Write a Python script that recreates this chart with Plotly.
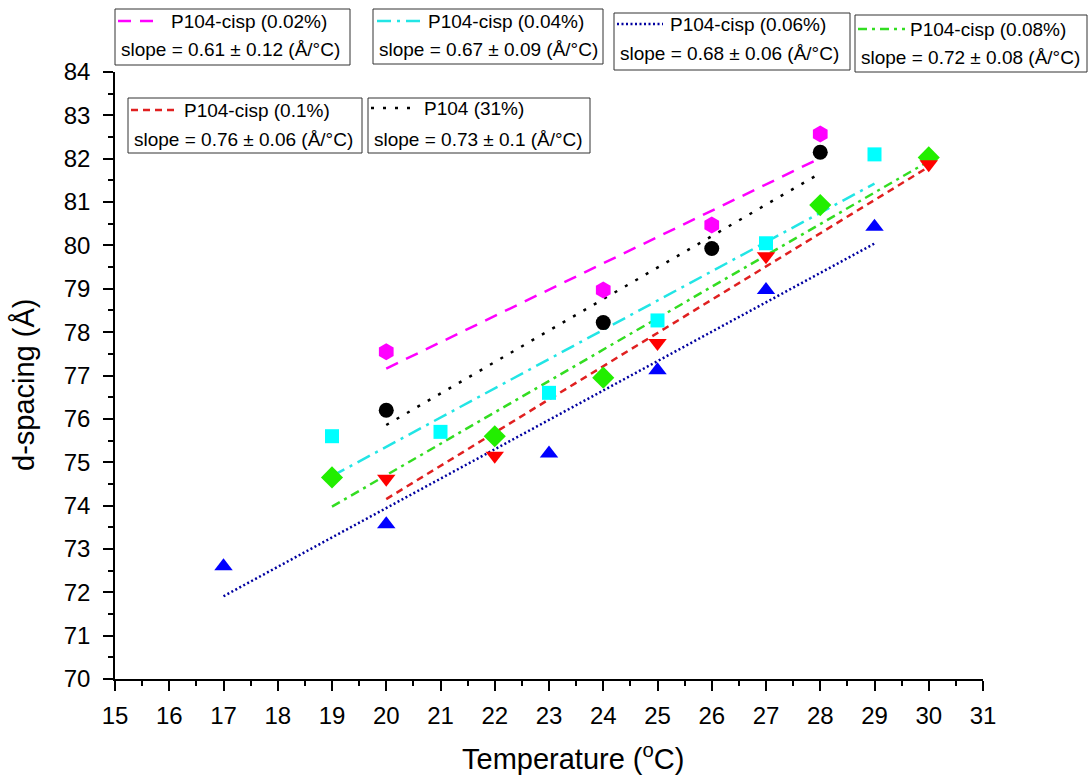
import numpy as np
import plotly.graph_objects as go

# ---------------- data ----------------
x_002 = [20, 24, 26, 28]
y_002 = [77.55, 78.97, 80.47, 82.57]

x_31 = [20, 24, 26, 28]
y_31 = [76.20, 78.22, 79.93, 82.15]

x_004 = [19, 21, 23, 25, 27, 29]
y_004 = [75.60, 75.70, 76.60, 78.27, 80.05, 82.10]

x_008 = [19, 22, 24, 28, 30]
y_008 = [74.65, 75.60, 76.95, 80.93, 82.03]

x_01 = [20, 22, 25, 27, 30]
y_01 = [74.62, 75.15, 77.75, 79.75, 81.87]

x_006 = [17, 20, 23, 25, 27, 29]
y_006 = [72.60, 73.57, 75.20, 77.12, 78.97, 80.43]

series_names = ["P104-cisp (0.02%)", "P104-cisp (0.04%)", "P104-cisp (0.06%)",
                "P104-cisp (0.08%)", "P104-cisp (0.1%)", "P104 (31%)"]
slope_labels = ["slope = 0.61 ± 0.12 (Å/°C)", "slope = 0.67 ± 0.09 (Å/°C)",
                "slope = 0.68 ± 0.06 (Å/°C)", "slope = 0.72 ± 0.08 (Å/°C)",
                "slope = 0.76 ± 0.06 (Å/°C)", "slope = 0.73 ± 0.1 (Å/°C)"]

x_ticks = list(range(15, 32))
y_ticks = list(range(70, 85))

x_title = "Temperature (<sup>o</sup>C)"
y_title = "d-spacing (Å)"

# ---------------- styles ----------------
W, H = 1089, 776
L, R, T, B = 115, 983, 72, 679  # plot area in pixels
FONT = "Liberation Sans, Arial"

styles = [
    # x, y, marker color, symbol, size, line color, dash
    (x_002, y_002, "#FF00FF", "hexagon", 17, "#FF00FF", "13px,9px"),
    (x_004, y_004, "#00FFFF", "square", 14, "#22E5E5", "14px,6px,3px,6px"),
    (x_006, y_006, "#0000FF", "triangle-up", 16, "#0000A0", "2px,2.5px"),
    (x_008, y_008, "#22EE00", "diamond", 17, "#33DD22", "9px,5px,3px,5px"),
    (x_01, y_01, "#FF0000", "triangle-down", 16, "#E02020", "7px,5px"),
    (x_31, y_31, "#000000", "circle", 15, "#000000", "3px,9px"),
]

fig = go.Figure()

for (xs, ys, mc, sym, sz, lc, dash) in styles:
    xa = np.array(xs, float)
    ya = np.array(ys, float)
    m, c = np.polyfit(xa, ya, 1)
    xf = np.array([xa.min(), xa.max()])
    fig.add_trace(go.Scatter(x=xf, y=m * xf + c, mode="lines",
                             line=dict(color=lc, width=2.5, dash=dash),
                             showlegend=False, hoverinfo="skip"))
for (xs, ys, mc, sym, sz, lc, dash) in styles:
    fig.add_trace(go.Scatter(x=xs, y=ys, mode="markers",
                             marker=dict(symbol=sym, size=sz, color=mc,
                                         line=dict(width=0)),
                             showlegend=False))

# ---------------- legend boxes ----------------
def px(p):
    return (p - L) / (R - L)

def py(p):
    return (B - p) / (B - T)

# box: left, right, top, bottom, sample x0, sample x1, text x, line1 y, line2 y, slope x
boxes = [
    (115, 350, 9, 65, 118, 162, 169, 21, 50, 119),
    (373, 603, 9, 64, 377, 422, 426, 21, 50, 377),
    (614, 850, 13, 70, 617, 663, 668, 24, 53, 618),
    (855, 1087, 15, 72, 858, 905, 908, 29, 58, 859),
    (128, 362, 98, 153, 131, 177, 182, 110, 139, 132),
    (368, 590, 98, 153, 371, 413, 422, 108, 139, 372),
]

LEG_FS = 19
shapes = []
annotations = []
for i, (bl, br, bt, bb, s0, s1, tx, y1, y2, sx) in enumerate(boxes):
    lc = styles[i][5]
    dash = styles[i][6]
    shapes.append(dict(type="rect", xref="paper", yref="paper",
                       x0=px(bl), x1=px(br), y0=py(bb), y1=py(bt),
                       line=dict(color="#333333", width=1), fillcolor="white",
                       layer="above"))
    shapes.append(dict(type="line", xref="paper", yref="paper",
                       x0=px(s0), x1=px(s1), y0=py(y1), y1=py(y1),
                       line=dict(color=lc, width=2.5, dash=dash), layer="above"))
    annotations.append(dict(text=series_names[i], xref="paper", yref="paper",
                            x=px(tx), y=py(y1), xanchor="left", yanchor="middle",
                            showarrow=False,
                            font=dict(family=FONT, size=LEG_FS, color="black")))
    annotations.append(dict(text=slope_labels[i], xref="paper", yref="paper",
                            x=px(sx), y=py(y2), xanchor="left", yanchor="middle",
                            showarrow=False,
                            font=dict(family=FONT, size=LEG_FS, color="black")))

# axis titles placed as annotations
annotations.append(dict(text=x_title, xref="paper", yref="paper",
                        x=px(573), y=py(757), xanchor="center", yanchor="middle",
                        showarrow=False, font=dict(family=FONT, size=29, color="black")))
annotations.append(dict(text=y_title, xref="paper", yref="paper",
                        x=px(24), y=py(385), xanchor="center", yanchor="middle",
                        textangle=-90, showarrow=False,
                        font=dict(family=FONT, size=29, color="black")))

axis_common = dict(showgrid=False, zeroline=False, showline=True, linecolor="black",
                   linewidth=1.5, ticks="outside", ticklen=10, tickwidth=1.5,
                   tickcolor="black", tickfont=dict(family=FONT, size=24, color="black"),
                   minor=dict(ticks="outside", ticklen=5, tickwidth=1.5, dtick=0.5,
                              tickcolor="black", showgrid=False))

fig.update_layout(
    width=W, height=H,
    margin=dict(l=L, r=W - R, t=T, b=H - B, pad=0),
    paper_bgcolor="white", plot_bgcolor="white",
    font=dict(family=FONT, color="black"),
    shapes=shapes, annotations=annotations,
    xaxis=dict(range=[15, 31], tickvals=x_ticks, ticktext=[str(v) for v in x_ticks],
               ticklabelstandoff=4, **axis_common),
    yaxis=dict(range=[70, 84], tickvals=y_ticks, ticktext=[str(v) for v in y_ticks],
               ticklabelstandoff=8, **axis_common),
)

fig.write_html("out.html")
